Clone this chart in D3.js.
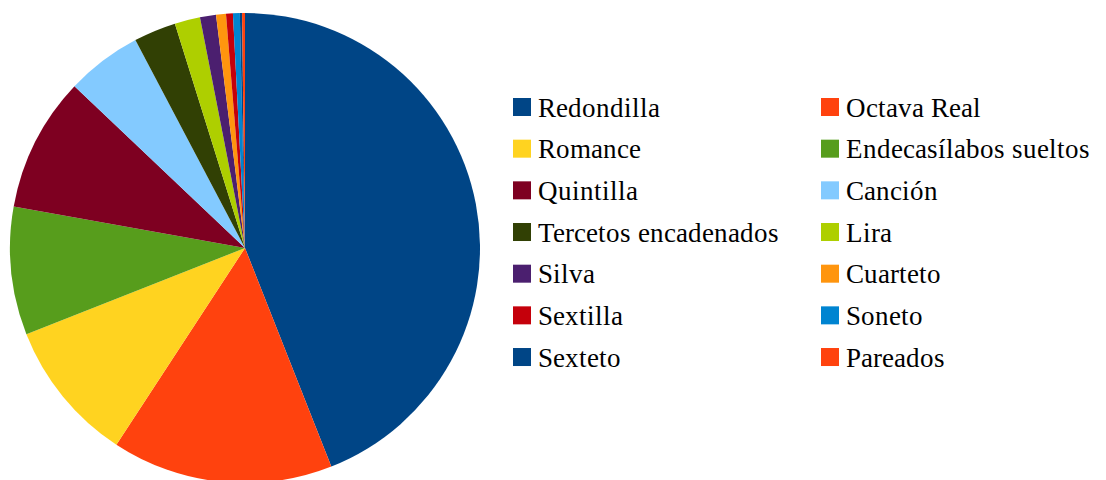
<!DOCTYPE html>
<html><head><meta charset="utf-8">
<script src="https://cdn.jsdelivr.net/npm/d3@7"></script>
<style>
@font-face{font-family:"LSerif";src:local("Liberation Serif"),local("LiberationSerif"),local("LiberationSerif-Regular"),local("Tinos"),local("Times New Roman");}
body{margin:0;background:#fff}
svg text.lg{font-family:"LSerif","Liberation Serif",Tinos,"Times New Roman","DejaVu Serif",serif !important;font-size:27px}
</style>
</head><body>
<svg id="c" width="1106" height="480" font-family="Liberation Serif, Times New Roman, serif"></svg>
<script>
const categories = ["Redondilla","Octava Real","Romance","Endecasílabos sueltos","Quintilla","Canción","Tercetos encadenados","Lira","Silva","Cuarteto","Sextilla","Soneto","Sexteto","Pareados"];
const values = [44.0,15.2,9.8,8.8,9.25,5.2,2.9,1.75,1.1,0.68,0.47,0.47,0.15,0.2];
const colors = ["#004586","#ff420e","#ffd320","#579d1c","#7e0021","#83caff","#314004","#aecf00","#4b1f6f","#ff950e","#c5000b","#0084d1","#004586","#ff420e"];

const svg = d3.select("#c");
const cx = 245, cy = 248, r = 235;
const pie = d3.pie().sort(null).value(d => d)(values);
const arc = d3.arc().innerRadius(0).outerRadius(r);
svg.append("g").attr("transform", `translate(${cx},${cy})`)
  .selectAll("path").data(pie).join("path")
  .attr("d", arc).attr("fill", (d,i) => colors[i]);

const colX = [513, 821], rowY0 = 98, rowH = 41.67;
categories.forEach((c, i) => {
  const col = i % 2, row = Math.floor(i / 2);
  const x = colX[col], y = rowY0 + row*rowH;
  svg.append("rect").attr("x", x).attr("y", y).attr("width", 18).attr("height", 18).attr("fill", colors[i]);
  svg.append("text").attr("class", "lg").attr("x", x + 25).attr("y", y + 18.5)
    .attr("font-family", "Liberation Serif, Times New Roman, serif")
    .attr("font-size", 27).text(c);
});
</script>
</body></html>
